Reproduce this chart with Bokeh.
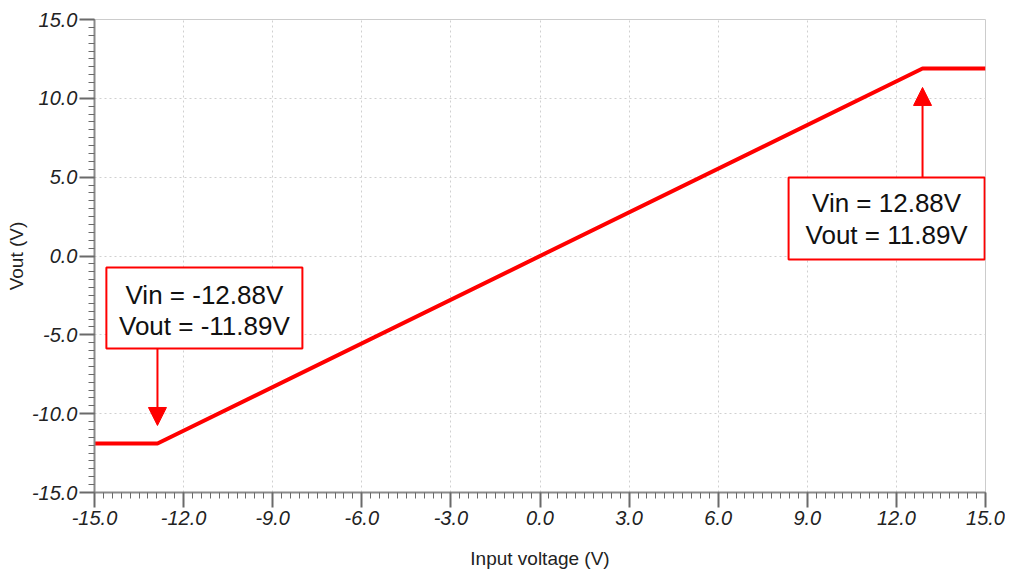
from bokeh.plotting import figure
from bokeh.models import FixedTicker, PrintfTickFormatter, Arrow, NormalHead, Range1d
from bokeh.core.properties import value
from bokeh.embed import file_html
from bokeh.resources import INLINE

# ---- data ----
vin = [-15.0, -12.88, 12.88, 15.0]
vout = [-11.89, -11.89, 11.89, 11.89]
x_ticks = [-15.0, -12.0, -9.0, -6.0, -3.0, 0.0, 3.0, 6.0, 9.0, 12.0, 15.0]
y_ticks = [-15.0, -10.0, -5.0, 0.0, 5.0, 10.0, 15.0]
ann_vin = [-12.88, 12.88]
ann_vout = [-11.89, 11.89]
ann_line1 = ["Vin = -12.88V", "Vin = 12.88V"]
ann_line2 = ["Vout = -11.89V", "Vout = 11.89V"]

# ---- layout (annotation box geometry, data units) ----
box_left = [-14.6, 8.37]
box_right = [-8.0, 14.97]
box_bottom = [-5.86, -0.22]
box_top = [-0.73, 4.98]
line1_y = [-2.45, 3.33]
line2_y = [-4.45, 1.33]
arrow_start = [-5.86, 4.98]
arrow_end = [-10.75, 10.69]

RED = "#ff0000"
FONT = "Liberation Sans"

p = figure(width=1005, height=575, output_backend="svg", toolbar_location=None,
           x_range=Range1d(-15, 15), y_range=Range1d(-15, 15),
           min_border_left=94, min_border_right=20, min_border_top=19, min_border_bottom=83)
p.outline_line_color = "#cccccc"
p.outline_line_width = 1
p.background_fill_color = "white"
p.border_fill_color = "white"

minor_x = [round(-15 + 0.3 * i, 2) for i in range(101)]
minor_y = [round(-15 + 0.5 * i, 2) for i in range(61)]
p.xaxis.ticker = FixedTicker(ticks=x_ticks, minor_ticks=minor_x)
p.yaxis.ticker = FixedTicker(ticks=y_ticks, minor_ticks=minor_y)
for ax in (p.xaxis, p.yaxis):
    ax.formatter = PrintfTickFormatter(format="%.1f")
    ax.major_tick_out = 15
    ax.major_tick_in = 0
    ax.minor_tick_out = 6
    ax.minor_tick_in = 0
    ax.axis_line_color = "#8a8a8a"
    ax.axis_line_width = 2
    ax.major_tick_line_color = "#6a6a6a"
    ax.major_tick_line_width = 2
    ax.minor_tick_line_color = "#6a6a6a"
    ax.major_label_text_font = FONT
    ax.major_label_text_font_style = "italic"
    ax.major_label_text_font_size = "20px"
    ax.major_label_text_color = "#222222"
    ax.axis_label_text_font = FONT
    ax.axis_label_text_font_style = "normal"
    ax.axis_label_text_font_size = "19px"
    ax.axis_label_text_color = "#222222"
p.xaxis.axis_label = "Input voltage (V)"
p.yaxis.axis_label = "Vout (V)"
p.xaxis.major_label_standoff = 3
p.yaxis.major_label_standoff = 2
p.xaxis.axis_label_standoff = 20
p.yaxis.axis_label_standoff = 2

p.grid.grid_line_color = "#d0d0d0"
p.grid.grid_line_dash = "2 3"
p.grid.grid_line_width = 1

p.line(vin, vout, line_color=RED, line_width=4)

for i in range(2):
    p.add_layout(Arrow(x_start=ann_vin[i], y_start=arrow_start[i],
                       x_end=ann_vin[i], y_end=arrow_end[i],
                       line_color=RED, line_width=2,
                       end=NormalHead(size=18, fill_color=RED, line_color=RED)))

p.quad(left=box_left, right=box_right, bottom=box_bottom, top=box_top,
       fill_color="white", line_color=RED, line_width=2)
cx = [(a + b) / 2 for a, b in zip(box_left, box_right)]
p.text(x=cx, y=line1_y, text=ann_line1, text_align="center", text_baseline="middle",
       text_font=value(FONT), text_font_size="26px", text_color="#111111")
p.text(x=cx, y=line2_y, text=ann_line2, text_align="center", text_baseline="middle",
       text_font=value(FONT), text_font_size="26px", text_color="#111111")

open("out.html", "w").write(file_html(p, INLINE))
